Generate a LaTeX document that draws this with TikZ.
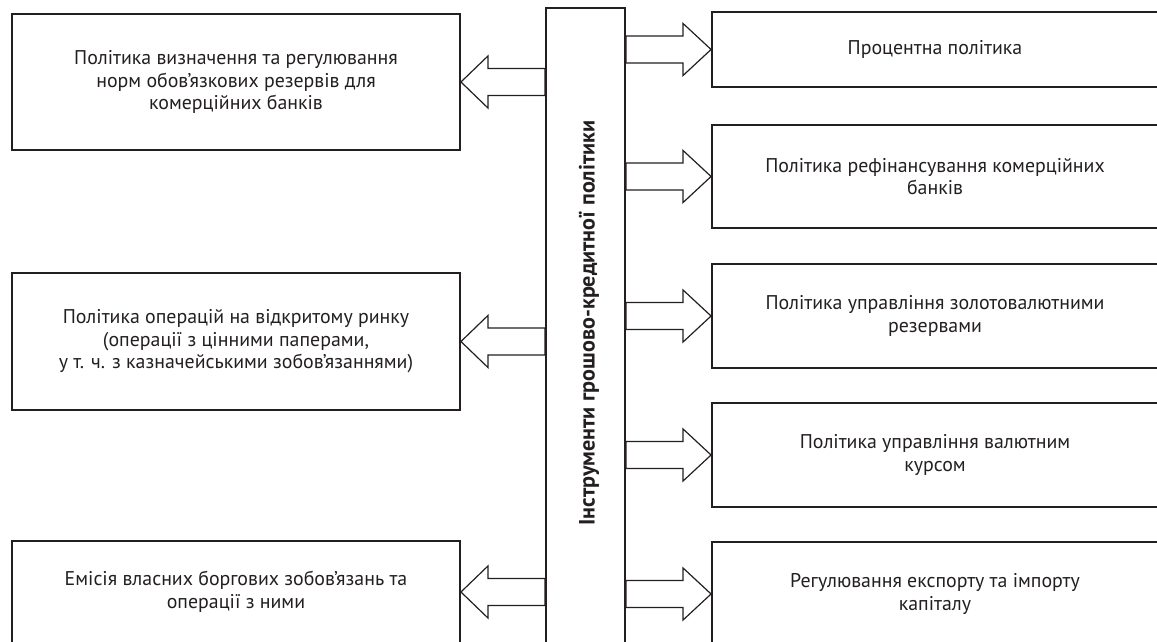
\documentclass[tikz,border=0pt]{standalone}
\usepackage{fontspec}
\setmainfont{PT Sans}
\usetikzlibrary{calc}
\definecolor{ink}{HTML}{231F20}
\begin{document}
\begin{tikzpicture}[x=0.75pt,y=-0.75pt,
  box/.style={draw=ink, line width=1.4pt, inner sep=0pt, align=center, text=ink,
    font=\fontsize{14.9}{16.9}\selectfont},
  lbox/.style={box, minimum width=336pt},
  rbox/.style={box, minimum width=334.5pt},
  barrow/.style={draw=ink, line width=0.9pt, line join=miter}]
\useasboundingbox (0,0) rectangle (1157,642);
\clip (0,0) rectangle (1157,642);
% central box
\node[draw=ink, line width=1.4pt, minimum width=59.25pt, minimum height=489pt, inner sep=0pt] (C) at (585.5,334) {};
\node[rotate=90, text=ink, font=\bfseries\fontsize{16.6}{18}\selectfont] (Ct) at (589,323) {Інструменти грошово-кредитної політики};
% left boxes
\node[lbox, minimum height=102pt] (L1) at (236,82) {Політика визначення та регулювання\\норм обов’язкових резервів для\\комерційних банків};
\node[lbox, minimum height=102.75pt] (L2) at (236,341.5) {Політика операцій на відкритому ринку\\(операції з цінними паперами,\\у т. ч. з казначейськими зобов’язаннями)};
\node[lbox, minimum height=76.5pt] (L3) at (236,592) {Емісія власних боргових зобов’язань та\\операції з ними};
% right boxes
\node[rbox, minimum height=56.25pt] (R1) at (935,49.5) {Процентна політика};
\node[rbox, minimum height=77.25pt] (R2) at (935,176.5) {Політика рефінансування комерційних\\банків};
\node[rbox, minimum height=78pt] (R3) at (935,316) {Політика управління золотовалютними\\резервами};
\node[rbox, minimum height=78pt] (R4) at (935,455) {Політика управління валютним\\курсом};
\node[rbox, minimum height=78pt] (R5) at (935,594) {Регулювання експорту та імпорту\\капіталу};
% left arrows
\foreach \n in {L1,L2,L3}{
  \draw[barrow] (\n.east) -- ++(27,-26) -- ++(0,12.5) -- ($(C.west|-\n.east)+(0,-13.5)$)
    -- ++(0,27) -- ($(\n.east)+(27,13.5)$) -- ++(0,12.5) -- cycle;
}
% right arrows
\foreach \n in {R1,R2,R3,R4,R5}{
  \draw[barrow] (\n.west) -- ++(-28,-26) -- ++(0,12.5) -- ($(C.east|-\n.west)+(0,-13.5)$)
    -- ++(0,27) -- ($(\n.west)+(-28,13.5)$) -- ++(0,12.5) -- cycle;
}
\end{tikzpicture}
\end{document}
